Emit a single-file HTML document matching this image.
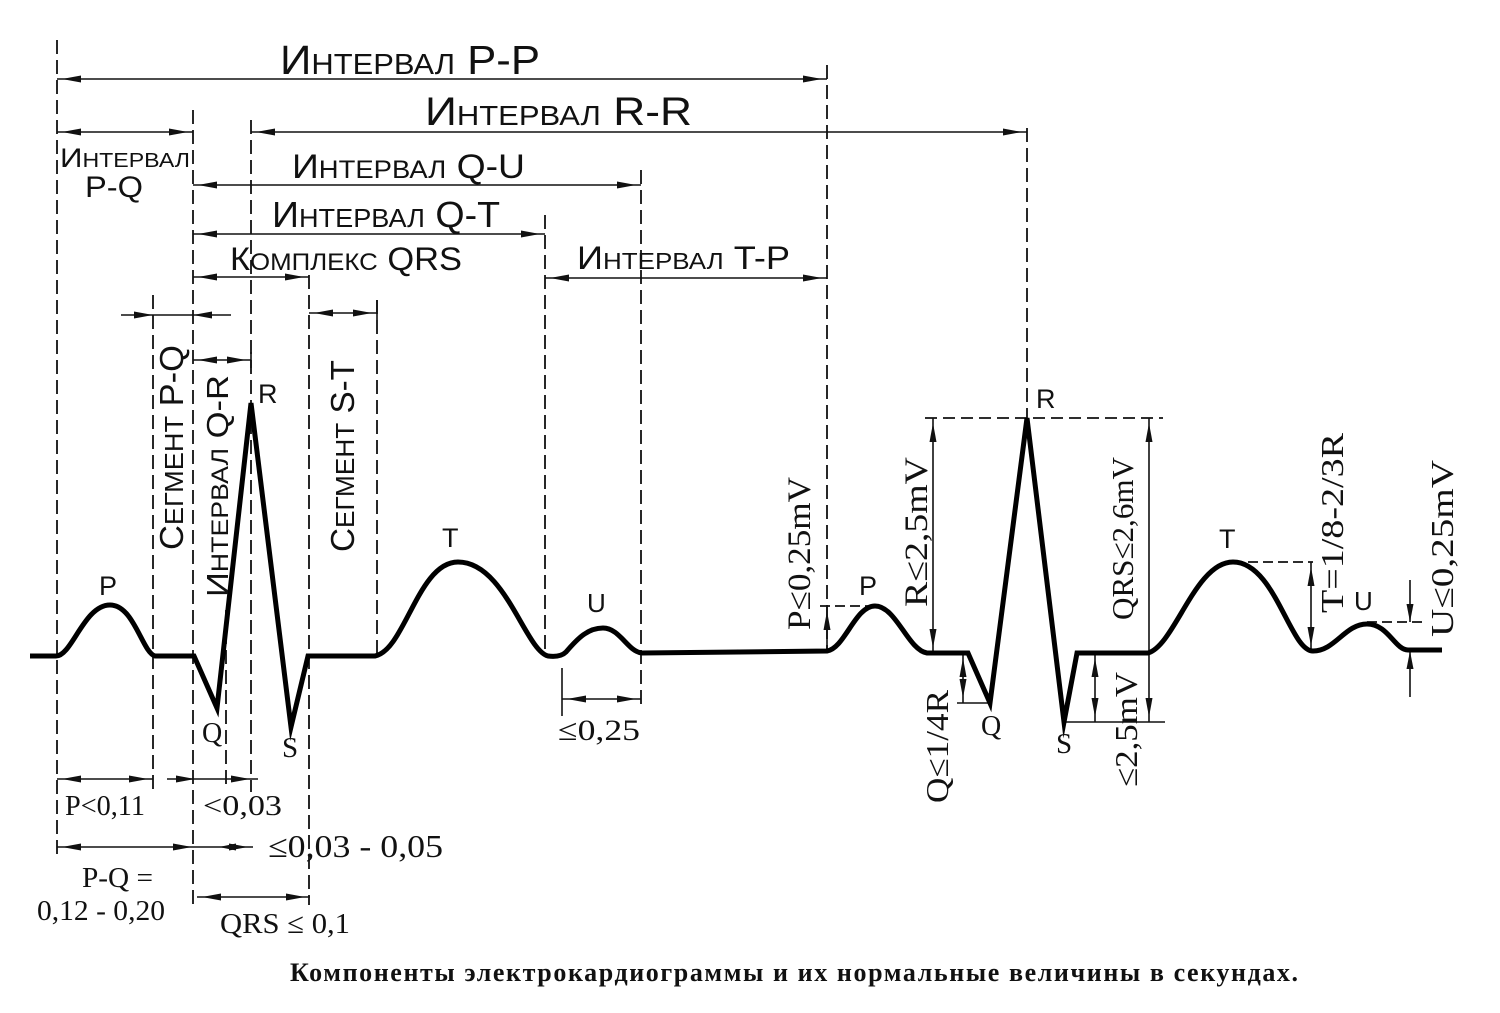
<!DOCTYPE html>
<html>
<head>
<meta charset="utf-8">
<style>
  html,body{margin:0;padding:0;background:#fff;}
  svg{display:block;}
  .d{stroke:#111;stroke-width:1.8;stroke-dasharray:14 6;fill:none;}
  .a{stroke:#111;stroke-width:1.6;fill:none;marker-start:url(#m);marker-end:url(#m);}
  .ae{stroke:#111;stroke-width:1.6;fill:none;marker-end:url(#m);}
  .s{stroke:#111;stroke-width:1.6;fill:none;}
  .sans{font-family:"Liberation Sans",sans-serif;fill:#111;}
  .ser{font-family:"Liberation Serif",serif;fill:#111;}
</style>
</head>
<body>
<svg width="1500" height="1013" viewBox="0 0 1500 1013" xmlns="http://www.w3.org/2000/svg">
<defs>
  <marker id="m" markerUnits="userSpaceOnUse" markerWidth="1" markerHeight="1" refX="0" refY="0" orient="auto-start-reverse" style="overflow:visible">
    <path d="M-24,-3.5 L-5,0 L-24,3.5 z" fill="#111"/>
  </marker>
</defs>

<!-- vertical dashed lines -->
<line class="d" x1="57" y1="40" x2="57" y2="860"/>
<line class="d" x1="153" y1="295" x2="153" y2="790"/>
<line class="d" x1="193" y1="110" x2="193" y2="906"/>
<line class="d" x1="226" y1="610" x2="226" y2="790"/>
<line class="d" x1="251" y1="120" x2="251" y2="792"/>
<line class="d" x1="309" y1="275" x2="309" y2="905"/>
<line class="d" x1="377" y1="300" x2="377" y2="656"/>
<line class="d" x1="545" y1="215" x2="545" y2="656"/>
<line class="d" x1="641" y1="170" x2="641" y2="705"/>
<line class="d" x1="827" y1="65" x2="827" y2="650"/>
<line class="d" x1="1027" y1="128" x2="1027" y2="418"/>
<line class="s" x1="562" y1="668" x2="562" y2="716"/>

<!-- top horizontal arrows -->
<line class="a" x1="57" y1="79" x2="827" y2="79"/>
<line class="a" x1="251" y1="132" x2="1027" y2="132"/>
<line class="a" x1="57" y1="132" x2="193" y2="132"/>
<line class="a" x1="193" y1="185" x2="641" y2="185"/>
<line class="a" x1="193" y1="234" x2="545" y2="234"/>
<line class="a" x1="193" y1="277" x2="309" y2="277"/>
<line class="a" x1="545" y1="278" x2="827" y2="278"/>
<line class="a" x1="309" y1="313" x2="377" y2="313"/>
<line class="a" x1="193" y1="360" x2="251" y2="360"/>
<line class="s" x1="377" y1="300" x2="377" y2="320"/>
<line class="s" x1="251" y1="352" x2="251" y2="368"/>
<!-- segment P-Q arrow (arrows from outside) -->
<line class="s" x1="121" y1="315" x2="231" y2="315"/>
<polygon points="153,315 134,311.5 134,318.5" fill="#111"/>
<polygon points="193,315 212,311.5 212,318.5" fill="#111"/>

<!-- bottom horizontal arrows -->
<line class="a" x1="562" y1="699" x2="641" y2="699"/>
<line class="a" x1="57" y1="779" x2="153" y2="779"/>
<line class="s" x1="167" y1="779" x2="258" y2="779"/>
<polygon points="195,779 176,775.5 176,782.5" fill="#111"/>
<polygon points="250,779 231,775.5 231,782.5" fill="#111"/>
<line class="a" x1="57" y1="847" x2="197" y2="847"/>
<line class="ae" x1="197" y1="847" x2="253" y2="847"/>
<polygon points="219,847 236,843.5 236,850.5" fill="#111"/>
<line class="a" x1="197" y1="897" x2="310" y2="897"/>

<!-- second beat measurement lines -->
<line class="d" x1="820" y1="606" x2="873" y2="606" style="stroke-dasharray:10 5"/>
<line class="ae" x1="827" y1="650" x2="827" y2="606"/>
<line class="d" x1="925" y1="418" x2="1163" y2="418" style="stroke-dasharray:12 6"/>
<line class="a" x1="933" y1="418" x2="933" y2="653"/>
<line class="a" x1="963" y1="653" x2="963" y2="703"/>
<line class="s" x1="957" y1="703" x2="990" y2="703"/>
<line class="a" x1="1095" y1="653" x2="1095" y2="722"/>
<line class="s" x1="1064" y1="722" x2="1165" y2="722"/>
<line class="a" x1="1149" y1="418" x2="1149" y2="722"/>
<line class="d" x1="1233" y1="562" x2="1313" y2="562" style="stroke-dasharray:10 5"/>
<line class="a" x1="1311" y1="562" x2="1311" y2="651"/>
<line class="d" x1="1367" y1="622" x2="1425" y2="622" style="stroke-dasharray:10 5"/>
<line class="s" x1="1410" y1="580" x2="1410" y2="622"/>
<polygon points="1410,622 1406.5,604 1413.5,604" fill="#111"/>
<line class="s" x1="1410" y1="697" x2="1410" y2="651"/>
<polygon points="1410,651 1406.5,669 1413.5,669" fill="#111"/>

<!-- ECG trace -->
<path d="M30,656 L56,656 C72,656 84,605 110,605 C134,605 142,652 155,656 L194,656 L217,708 L251,403 L291,727 L308,656 L375,656 C405,650 418,562 458,562 C505,562 525,650 548,656 C556,657 562,656 566,652 C578,638 588,628 603,628 C620,628 628,652 642,653 L827,651 C845,648 855,606 875,606 C896,606 908,650 927,653 L968,653 L990,703 L1027,418 L1064,722 L1077,653 L1148,653 C1175,645 1195,562 1233,562 C1275,562 1290,651 1313,651 C1335,651 1345,624 1367,624 C1388,624 1395,650 1408,650 L1442,650" fill="none" stroke="#000" stroke-width="5" stroke-linejoin="miter" stroke-miterlimit="8"/>

<!-- horizontal labels -->
<text class="sans" x="280" y="74" textLength="260" lengthAdjust="spacingAndGlyphs"><tspan font-size="41">И</tspan><tspan font-size="29">НТЕРВАЛ</tspan><tspan font-size="41"> P-P</tspan></text>
<text class="sans" x="425" y="125" textLength="267" lengthAdjust="spacingAndGlyphs"><tspan font-size="40">И</tspan><tspan font-size="28">НТЕРВАЛ</tspan><tspan font-size="40">  R-R</tspan></text>
<text class="sans" x="60" y="167" textLength="130" lengthAdjust="spacingAndGlyphs"><tspan font-size="27">И</tspan><tspan font-size="20">НТЕРВАЛ</tspan></text>
<text class="sans" x="85" y="197" font-size="30" textLength="58" lengthAdjust="spacingAndGlyphs">P-Q</text>
<text class="sans" x="292" y="178" textLength="233" lengthAdjust="spacingAndGlyphs"><tspan font-size="34">И</tspan><tspan font-size="25">НТЕРВАЛ</tspan><tspan font-size="34"> Q-U</tspan></text>
<text class="sans" x="272" y="227" textLength="228" lengthAdjust="spacingAndGlyphs"><tspan font-size="36">И</tspan><tspan font-size="26">НТЕРВАЛ</tspan><tspan font-size="36"> Q-T</tspan></text>
<text class="sans" x="230" y="270" textLength="232" lengthAdjust="spacingAndGlyphs"><tspan font-size="32">К</tspan><tspan font-size="24">ОМПЛЕКС</tspan><tspan font-size="32"> QRS</tspan></text>
<text class="sans" x="577" y="269" textLength="213" lengthAdjust="spacingAndGlyphs"><tspan font-size="32">И</tspan><tspan font-size="23">НТЕРВАЛ</tspan><tspan font-size="32"> T-P</tspan></text>

<!-- rotated labels, left beat -->
<text class="sans" transform="translate(183,550) rotate(-90)" x="0" y="0" textLength="205" lengthAdjust="spacingAndGlyphs"><tspan font-size="33">С</tspan><tspan font-size="26">ЕГМЕНТ</tspan><tspan font-size="33"> P-Q</tspan></text>
<text class="sans" transform="translate(228,597) rotate(-90)" x="0" y="0" textLength="222" lengthAdjust="spacingAndGlyphs"><tspan font-size="31">И</tspan><tspan font-size="24">НТЕРВАЛ</tspan><tspan font-size="31"> Q-R</tspan></text>
<text class="sans" transform="translate(354,552) rotate(-90)" x="0" y="0" textLength="192" lengthAdjust="spacingAndGlyphs"><tspan font-size="33">С</tspan><tspan font-size="26">ЕГМЕНТ</tspan><tspan font-size="33"> S-T</tspan></text>

<!-- rotated labels, right beat -->
<text class="ser" transform="translate(810,630) rotate(-90)" font-size="33" textLength="153" lengthAdjust="spacingAndGlyphs">P≤0,25mV</text>
<text class="ser" transform="translate(927,607) rotate(-90)" font-size="33" textLength="150" lengthAdjust="spacingAndGlyphs">R≤2,5mV</text>
<text class="ser" transform="translate(1133,620) rotate(-90)" font-size="31" textLength="163" lengthAdjust="spacingAndGlyphs">QRS≤2,6mV</text>
<text class="ser" transform="translate(948,803) rotate(-90)" font-size="32" textLength="113" lengthAdjust="spacingAndGlyphs">Q≤1/4R</text>
<text class="ser" transform="translate(1137,787) rotate(-90)" font-size="32" textLength="115" lengthAdjust="spacingAndGlyphs">≤2,5mV</text>
<text class="ser" transform="translate(1343,613) rotate(-90)" font-size="32" textLength="180" lengthAdjust="spacingAndGlyphs">T=1/8-2/3R</text>
<text class="ser" transform="translate(1453,637) rotate(-90)" font-size="32" textLength="177" lengthAdjust="spacingAndGlyphs">U≤0,25mV</text>

<!-- wave letters -->
<text class="sans" x="99" y="595" font-size="27">P</text>
<text class="sans" x="258" y="403" font-size="27">R</text>
<text class="ser" x="202" y="742" font-size="28">Q</text>
<text class="ser" x="282" y="757" font-size="29">S</text>
<text class="sans" x="442" y="547" font-size="27">T</text>
<text class="sans" x="587" y="612" font-size="26">U</text>
<text class="sans" x="859" y="595" font-size="27">P</text>
<text class="sans" x="1036" y="408" font-size="27">R</text>
<text class="ser" x="981" y="735" font-size="28">Q</text>
<text class="ser" x="1056" y="753" font-size="29">S</text>
<text class="sans" x="1219" y="548" font-size="27">T</text>
<text class="sans" x="1354" y="610" font-size="26">U</text>

<!-- bottom value labels -->
<text class="ser" x="65" y="815" font-size="28" textLength="80" lengthAdjust="spacingAndGlyphs">P&lt;0,11</text>
<text class="ser" x="203" y="815" font-size="28" textLength="79" lengthAdjust="spacingAndGlyphs">&lt;0,03</text>
<text class="ser" x="268" y="857" font-size="32" textLength="175" lengthAdjust="spacingAndGlyphs">≤0,03 - 0,05</text>
<text class="ser" x="82" y="887" font-size="28" textLength="71" lengthAdjust="spacingAndGlyphs">P-Q =</text>
<text class="ser" x="37" y="920" font-size="29" textLength="128" lengthAdjust="spacingAndGlyphs">0,12 - 0,20</text>
<text class="ser" x="220" y="933" font-size="29" textLength="130" lengthAdjust="spacingAndGlyphs">QRS ≤ 0,1</text>
<text class="ser" x="558" y="740" font-size="30" textLength="82" lengthAdjust="spacingAndGlyphs">≤0,25</text>

<!-- caption -->
<text class="ser" x="290" y="981" font-size="26" font-weight="bold" textLength="1008" lengthAdjust="spacing" style="font-weight:600">Компоненты электрокардиограммы и их нормальные величины в секундах.</text>
</svg>
</body>
</html>
